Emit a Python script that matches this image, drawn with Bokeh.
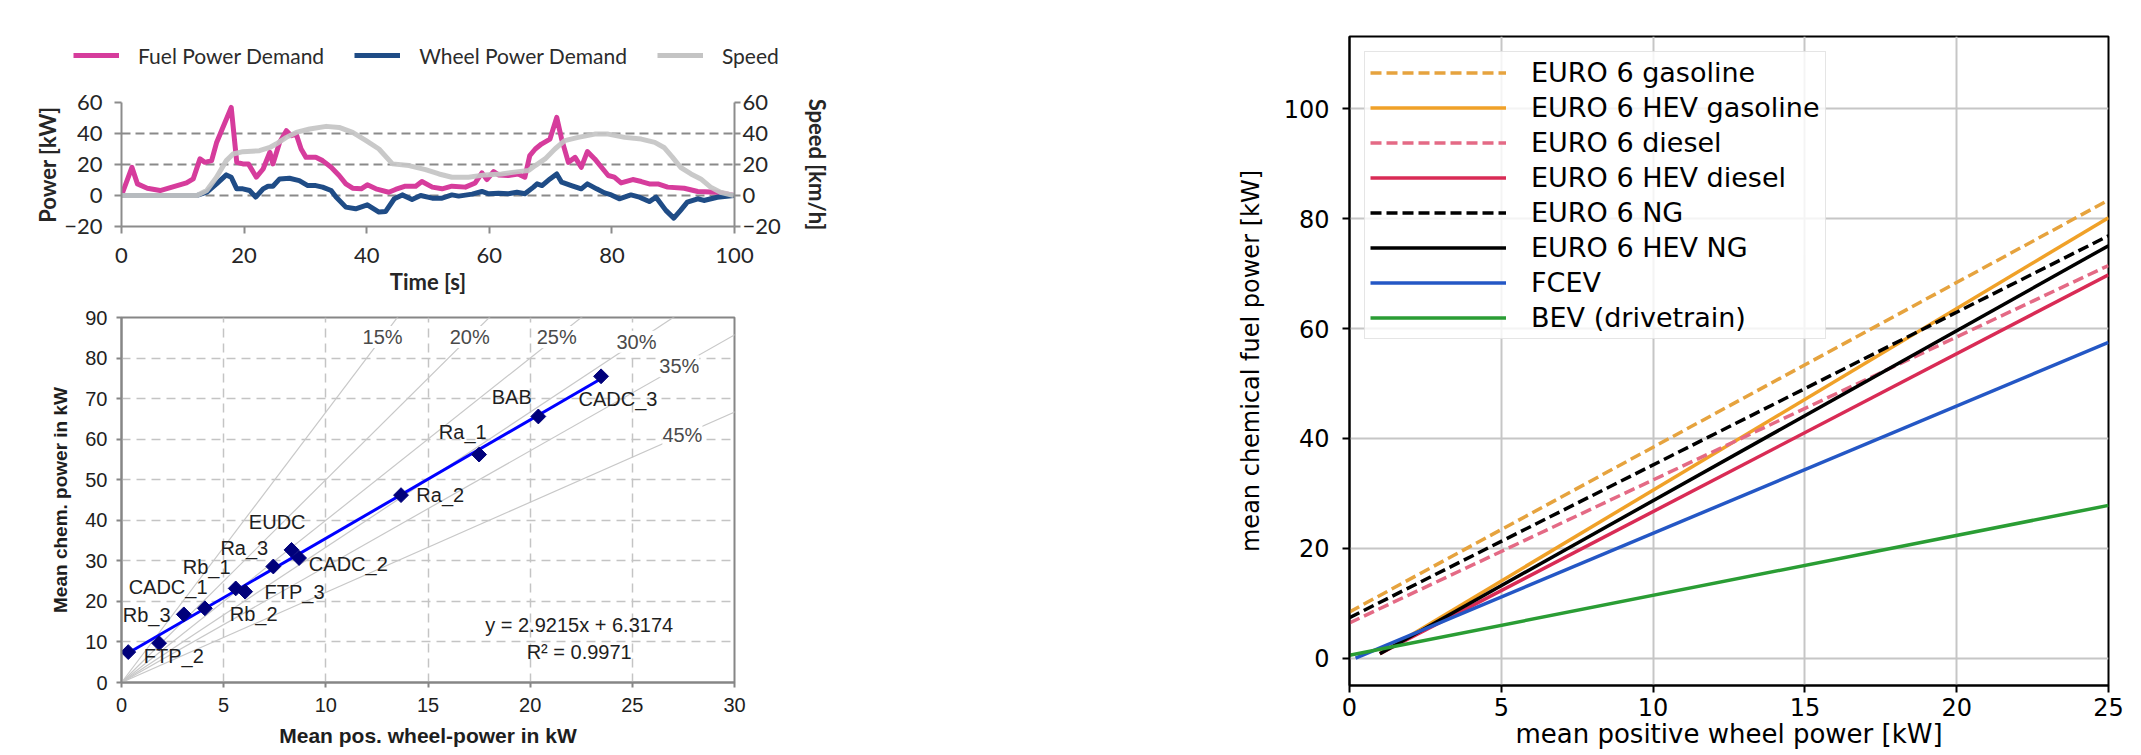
import numpy as np
from bokeh.plotting import figure
from bokeh.models import (Range1d, LinearAxis, Legend, LegendItem, LabelSet, Label,
                          FixedTicker, ColumnDataSource)
from bokeh.layouts import row, column
from bokeh.embed import file_html
from bokeh.resources import INLINE
from bokeh.core.properties import value

# ====================== DATA ======================
# --- top panel: power demand over a short drive-cycle section ---
fuel_t = [0, 1.7, 2.6, 4.2, 6.3, 10.6, 11.7, 12.8, 13.6, 14.7, 15.5, 17.9, 18.8, 19.8, 20.7,
          22.0, 23.1, 24.2, 24.7, 25.8, 26.9, 27.7, 28.5, 29.3, 30.1, 31.7, 32.8, 34.2, 35.5,
          36.6, 37.7, 39.1, 40.1, 41.5, 43.6, 44.7, 46.3, 48.0, 49.0, 50.7, 52.3, 53.9, 56.1,
          57.7, 58.8, 59.6, 60.7, 61.5, 63.1, 64.7, 65.8, 66.6, 67.5, 68.5, 69.9, 71.0, 71.8,
          72.9, 74.0, 75.0, 76.0, 77.2, 78.3, 79.4, 80.4, 81.5, 83.4, 84.8, 86.1, 87.5, 89.1,
          91.8, 94.0, 97.2, 99.9]
fuel_kw = [0, 18.2, 7.5, 4.7, 3.2, 8.1, 10.7, 23.6, 21.4, 22.5, 34.0, 56.8, 21.4, 20.4, 20.4,
           11.8, 17.1, 27.9, 20.4, 34.3, 41.8, 38.6, 39.6, 30.0, 24.6, 24.6, 22.5, 18.2, 12.9,
           7.5, 4.7, 4.3, 6.9, 4.3, 2.1, 3.9, 6.0, 6.0, 9.0, 5.4, 4.3, 6.0, 5.4,
           8.1, 14.6, 10.3, 15.4, 13.3, 12.9, 13.9, 11.8, 25.7, 30.0, 33.2, 36.4, 50.4, 36.4,
           21.4, 24.6, 18.2, 28.3, 23.6, 18.2, 12.9, 11.8, 8.1, 10.3, 9.0, 7.5, 7.5, 5.4,
           4.7, 2.6, 2.1, 0]
wheel_t = [0, 12.3, 13.9, 15.5, 17.1, 17.9, 18.8, 19.8, 20.9, 21.9, 23.1, 23.9, 24.7, 25.8,
           27.4, 29.0, 30.4, 31.7, 32.8, 34.2, 35.0, 36.6, 38.2, 40.1, 42.0, 43.1, 44.5, 45.8,
           47.4, 48.8, 50.7, 52.3, 53.9, 55.0, 57.2, 58.8, 59.9, 61.5, 63.1, 64.5, 65.8, 67.2,
           67.8, 68.6, 69.9, 71.0, 71.8, 73.4, 75.0, 76.0, 77.5, 78.8, 79.9, 81.2, 83.1, 84.5,
           86.1, 87.2, 88.8, 90.1, 91.2, 92.3, 94.0, 95.0, 97.2, 99.9]
wheel_kw = [0, 0, 2.1, 7.5, 13.3, 11.8, 4.3, 4.3, 3.2, -1.0, 4.3, 6.0, 6.0, 10.7,
            11.1, 9.6, 6.4, 6.4, 5.4, 3.2, -1.0, -7.5, -8.6, -6.0, -10.7, -10.3, -2.1, 0.4,
            -2.6, 0.0, -1.7, -1.7, 0.4, -0.4, 0.9, 2.6, 1.1, 1.5, 1.1, 2.1, 1.1, 5.4,
            7.5, 6.4, 10.7, 13.9, 8.6, 6.4, 4.3, 7.5, 4.3, 1.7, 0.4, -2.1, 0.4, -1.1,
            -3.9, -1.1, -9.6, -14.6, -9.6, -4.3, -2.1, -3.2, -1.1, 0]
speed_t = [0, 12.3, 13.9, 15.5, 17.1, 18.2, 19.8, 22.5, 24.2, 25.2, 26.9, 28.5, 30.7, 33.4,
           35.5, 37.7, 39.9, 42.0, 44.2, 46.9, 49.6, 51.8, 53.9, 56.6, 59.3, 62.0, 64.7, 66.4,
           67.5, 69.1, 70.7, 72.3, 74.5, 77.2, 79.4, 82.1, 84.8, 87.0, 88.5, 89.9, 91.2, 92.9,
           94.5, 96.1, 97.7, 99.9]
speed_kmh = [0, 0, 3.2, 11.8, 22.5, 26.8, 28.3, 28.9, 31.0, 33.2, 37.5, 40.7, 42.9, 44.6,
             43.9, 40.7, 35.4, 30.0, 20.4, 19.3, 16.7, 13.9, 11.8, 11.8, 13.3, 13.9, 15.4, 16.1,
             19.3, 23.6, 30.0, 35.4, 37.5, 39.6, 39.6, 37.5, 36.4, 34.3, 31.0, 24.6, 18.2, 13.9,
             10.7, 5.4, 2.1, 0]
top_series = ["Fuel Power Demand", "Wheel Power Demand", "Speed"]
top_x_ticks = [0, 20, 40, 60, 80, 100]
top_y_ticks = [-20, 0, 20, 40, 60]

# --- bottom-left panel: mean chemical power vs mean positive wheel power ---
cycle_names = ["FTP_2", "Rb_3", "CADC_1", "Rb_1", "Rb_2", "FTP_3", "Ra_3", "EUDC", "CADC_2",
               "Ra_2", "Ra_1", "BAB", "CADC_3"]
mean_wheel_kw = [0.33, 1.84, 3.05, 4.08, 5.59, 6.05, 7.43, 8.32, 8.69, 13.68, 17.5, 20.4, 23.47]
mean_chem_kw = [7.5, 9.7, 16.8, 18.3, 23.2, 22.4, 28.6, 32.7, 30.7, 46.2, 56.2, 65.6, 75.5]
fit_slope = 2.9215
fit_intercept = 6.3174
fit_r2 = 0.9971
efficiency_pct = [15, 20, 25, 30, 35, 45]

# --- right panel: mean chemical fuel power vs mean positive wheel power ---
power_series = ["EURO 6 gasoline", "EURO 6 HEV gasoline", "EURO 6 diesel", "EURO 6 HEV diesel",
                "EURO 6 NG", "EURO 6 HEV NG", "FCEV", "BEV (drivetrain)"]
power_x_start = [0, 1, 0, 1, 0, 1, 0.2, 0]
power_y_start = [8.4, 0.8, 6.4, 0.8, 7.35, 0.8, 0.0, 0.5]
power_x_end = [25, 25, 25, 25, 25, 25, 25, 25]
power_y_end = [83.4, 80.2, 71.5, 69.8, 76.9, 75.1, 57.5, 27.8]

# ====================== STYLE / LAYOUT ======================
TOP_COLORS = ["#D63C9C", "#1F4C86", "#C4C4C4"]
PCT_LABEL_Y = [85.2, 85.2, 85.2, 84.0, 78.0, 61.0]          # height of each % label on its line
LBL_DX = [2.23, -0.61, -0.77, 0.09, 0.88, 2.42, -1.42, -0.70, 2.41, 1.92, -0.80, -1.30, 0.83]
LBL_DY = [-0.9, 7.0, 6.7, 10.3, -6.3, 0.0, 4.5, 6.8, -1.6, 0.0, 5.6, 4.8, -5.7]
R_COLORS = ["#E6A33E", "#F0A128", "#E46A85", "#D92B55", "#000000", "#000000", "#2457C5", "#2A9D34"]
R_DASH = ["11 5", "solid", "11 5", "solid", "11 5", "solid", "solid", "solid"]
LEFT_W = 838
TOTAL_W = 2141
TOTAL_H = 755


def style_axis(ax, line_color, tick_out, font, size, label_size, standoff, label_standoff,
               text_color, bold=True, line_width=2):
    ax.axis_line_color = line_color
    ax.axis_line_width = line_width
    ax.major_tick_line_color = line_color
    ax.major_tick_line_width = line_width
    ax.major_tick_out = tick_out
    ax.major_tick_in = 0
    ax.minor_tick_line_color = None
    ax.major_label_text_font = font
    ax.major_label_text_font_size = size
    ax.major_label_text_color = text_color
    ax.major_label_standoff = standoff
    ax.axis_label_text_font = font
    ax.axis_label_text_font_size = label_size
    ax.axis_label_text_font_style = "bold" if bold else "normal"
    ax.axis_label_text_color = text_color
    ax.axis_label_standoff = label_standoff


# ---------------- top panel legend (its own strip above the chart) ----------------
# The strip's y-range lies far outside the data, so only the legend shows.
leg_fig = figure(width=LEFT_W, height=88, x_range=Range1d(0, 100), y_range=Range1d(1000, 1001),
                 x_axis_type=None, y_axis_type=None, output_backend="svg",
                 toolbar_location=None, min_border_left=0, min_border_right=0,
                 min_border_top=0, min_border_bottom=0)
leg_fig.frame_align = False
leg_fig.outline_line_color = None
leg_items = []
for name, col, tx, ty in zip(top_series, TOP_COLORS, [fuel_t, wheel_t, speed_t],
                             [fuel_kw, wheel_kw, speed_kmh]):
    r = leg_fig.line(tx, ty, line_color=col, line_width=5)
    leg_items.append(LegendItem(label=name, renderers=[r]))
leg_fig.add_layout(Legend(items=leg_items, orientation="horizontal", location=(73, 20),
                          glyph_width=46, glyph_height=26, label_height=26, label_standoff=19,
                          spacing=30, padding=0, margin=0, border_line_color=None,
                          background_fill_alpha=0, label_text_font="Lato",
                          label_text_font_size="21px", label_text_color="#2b2b2b"))

# ---------------- top panel ----------------
top = figure(width=LEFT_W, height=212, x_range=Range1d(0, 100), y_range=Range1d(-20, 60),
             output_backend="svg", toolbar_location=None,
             min_border_left=119, min_border_right=103, min_border_top=14, min_border_bottom=74)
top.outline_line_color = None
top.xgrid.visible = False
top.ygrid.ticker = FixedTicker(ticks=[0, 20, 40, 60])
top.ygrid.grid_line_color = "#8a8a8a"
top.ygrid.grid_line_width = 2
top.ygrid.grid_line_dash = "9 5"
top.xaxis.ticker = FixedTicker(ticks=top_x_ticks)
top.yaxis.ticker = FixedTicker(ticks=top_y_ticks)
top.xaxis.axis_label = "Time [s]"
top.yaxis.axis_label = "Power [kW]"
style_axis(top.xaxis[0], "#8c8c8c", 7, "Lato", "22px", "22px", 14, 2, "#262626")
style_axis(top.yaxis[0], "#8c8c8c", 7, "Lato", "22px", "22px", 12, 0, "#262626")
right_ax = LinearAxis(ticker=FixedTicker(ticks=top_y_ticks), axis_label="Speed [km/h]")
style_axis(right_ax, "#8c8c8c", 6, "Lato", "22px", "22px", 2, 20, "#262626")
top.add_layout(right_ax, "right")

top.line(fuel_t, fuel_kw, line_color=TOP_COLORS[0], line_width=5, line_join="round")
top.line(wheel_t, wheel_kw, line_color=TOP_COLORS[1], line_width=5, line_join="round")
top.line(speed_t, speed_kmh, line_color=TOP_COLORS[2], line_width=5, line_join="round",
         line_alpha=0.92)

# ---------------- bottom-left panel ----------------
bl = figure(width=LEFT_W, height=455, x_range=Range1d(0, 30), y_range=Range1d(0, 90),
            output_backend="svg", toolbar_location=None,
            min_border_left=121, min_border_right=104, min_border_top=17, min_border_bottom=73)
bl.outline_line_color = "#868686"
bl.outline_line_width = 2
bl.xaxis.ticker = FixedTicker(ticks=[0, 5, 10, 15, 20, 25, 30])
bl.yaxis.ticker = FixedTicker(ticks=list(range(0, 91, 10)))
for g in (bl.xgrid[0], bl.ygrid[0]):
    g.grid_line_color = "#c4c4c4"
    g.grid_line_width = 1.5
    g.grid_line_dash = "9 6"
bl.xaxis.axis_label = "Mean pos. wheel-power in kW"
bl.yaxis.axis_label = "Mean chem. power in kW"
style_axis(bl.xaxis[0], "#868686", 5, "Liberation Sans", "20px", "21px", 10, 9, "#1e1e1e")
style_axis(bl.yaxis[0], "#868686", 5, "Liberation Sans", "20px", "19px", 9, 11, "#1e1e1e")

# efficiency guide lines through the origin (y = x / eta)
for e in efficiency_pct:
    bl.line([0, 32], [0, 32 * 100.0 / e], line_color="#c8c8c8", line_width=1.2)
pct_src = ColumnDataSource(dict(
    x=[y * e / 100.0 for y, e in zip(PCT_LABEL_Y, efficiency_pct)],
    y=PCT_LABEL_Y,
    t=["%d%%" % e for e in efficiency_pct]))
bl.add_layout(LabelSet(x="x", y="y", text="t", source=pct_src, text_align="center",
                       text_baseline="middle", text_font=value("Liberation Sans"),
                       text_font_size="20px", text_color="#4a4a4a",
                       background_fill_color="white", background_fill_alpha=1.0))

fit_x = [min(mean_wheel_kw), max(mean_wheel_kw)]
bl.line(fit_x, [fit_slope * x + fit_intercept for x in fit_x], line_color="#0000FF",
        line_width=3)
bl.scatter(mean_wheel_kw, mean_chem_kw, marker="square", angle=np.pi / 4, size=10.5,
           fill_color="#00007A", line_color="#00007A")
lbl_src = ColumnDataSource(dict(
    x=[x + d for x, d in zip(mean_wheel_kw, LBL_DX)],
    y=[y + d for y, d in zip(mean_chem_kw, LBL_DY)],
    t=cycle_names))
bl.text(x="x", y="y", text="t", source=lbl_src, text_align="center", text_baseline="middle",
        text_font=value("Liberation Sans"), text_font_size="20px", text_color="#1e1e1e")
bl.add_layout(Label(x=22.4, y=14.2, text="y = %.4fx + %.4f" % (fit_slope, fit_intercept),
                    text_align="center", text_baseline="middle", text_font="Liberation Sans",
                    text_font_size="20px", text_color="#1e1e1e"))
bl.add_layout(Label(x=22.4, y=7.6, text="R\u00b2 = %.4f" % fit_r2,
                    text_align="center", text_baseline="middle", text_font="Liberation Sans",
                    text_font_size="20px", text_color="#1e1e1e"))

# ---------------- right panel ----------------
rf = figure(width=TOTAL_W - LEFT_W, height=TOTAL_H, x_range=Range1d(0, 25),
            y_range=Range1d(-5, 113.2), output_backend="svg", toolbar_location=None,
            min_border_left=511, min_border_right=33, min_border_top=36, min_border_bottom=70)
rf.outline_line_color = "black"
rf.outline_line_width = 2
rf.xaxis.ticker = FixedTicker(ticks=[0, 5, 10, 15, 20, 25])
rf.yaxis.ticker = FixedTicker(ticks=[0, 20, 40, 60, 80, 100])
for g in (rf.xgrid[0], rf.ygrid[0]):
    g.grid_line_color = "#c6c6c6"
    g.grid_line_width = 2
rf.xaxis.axis_label = "mean positive wheel power [kW]"
rf.yaxis.axis_label = "mean chemical fuel power [kW]"
style_axis(rf.xaxis[0], "black", 7, "DejaVu Sans", "24px", "26px", 5, 0, "black", bold=False)
style_axis(rf.yaxis[0], "black", 7, "DejaVu Sans", "24px", "24px", 13, 16, "black", bold=False)

r_items = []
for i, name in enumerate(power_series):
    r = rf.line([power_x_start[i], power_x_end[i]], [power_y_start[i], power_y_end[i]],
                line_color=R_COLORS[i], line_width=3.5, line_dash=R_DASH[i])
    r_items.append(LegendItem(label=name, renderers=[r]))
r_leg = Legend(items=r_items, location="top_left", margin=15, padding=5, spacing=4,
               glyph_width=136, glyph_height=31, label_height=31, label_standoff=25,
               label_text_font="DejaVu Sans", label_text_font_size="27px",
               label_text_color="black",
               border_line_color="#cccccc", border_line_width=1.5,
               background_fill_color="white", background_fill_alpha=0.8)
rf.add_layout(r_leg)

layout = row(column(leg_fig, top, bl), rf)
open("out.html", "w").write(file_html(layout, INLINE))
